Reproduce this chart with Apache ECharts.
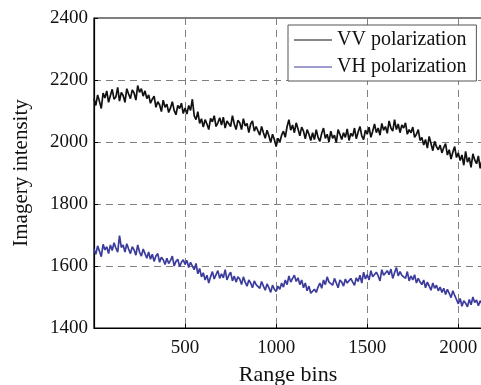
<!DOCTYPE html>
<html>
<head>
<meta charset="utf-8">
<script src="https://cdn.jsdelivr.net/npm/echarts@6/dist/echarts.min.js"></script>
<style>
    html, body { margin: 0; padding: 0; background: #ffffff; }
    #chart { width: 481px; height: 385px; }
</style>
</head>
<body>
<div id="chart"></div>
<script>
const BIN_STEP = 10;

const vvValues = [
    2140, 2118, 2152, 2131, 2108, 2158, 2142, 2165, 2128, 2150,
    2170, 2138, 2145, 2176, 2132, 2160, 2150, 2128, 2172, 2155,
    2140, 2168, 2158, 2135, 2182, 2160, 2172, 2148, 2165, 2140,
    2152, 2125, 2138, 2148, 2112, 2130, 2120, 2098, 2135, 2112,
    2122, 2095, 2110, 2130, 2102, 2088, 2118, 2108, 2125, 2092,
    2110, 2090, 2118, 2102, 2138, 2085, 2072, 2098, 2060, 2075,
    2048, 2072, 2058, 2040, 2076, 2065, 2085, 2050, 2062, 2078,
    2055, 2080, 2045, 2068, 2072, 2050, 2085, 2058, 2040, 2070,
    2062, 2040, 2075, 2052, 2060, 2030, 2058, 2068, 2035, 2050,
    2045, 2022, 2050, 2030, 2012, 2038, 2020, 1998, 2025, 2008,
    1985, 2012, 2000, 2022, 2035, 2015, 2050, 2072, 2038, 2055,
    2030, 2062, 2042, 2020, 2048, 2035, 2010, 2040, 2025, 2005,
    2030, 2008, 2040, 2015, 2002, 2028, 2045, 2012, 2025, 2000,
    2035, 2012, 2022, 1998, 2040, 2025, 2008, 2030, 2015, 2042,
    2005, 2028, 2018, 2045, 2010, 2032, 2050, 2020, 2008, 2038,
    2025, 2048, 2015, 2035, 2058, 2030, 2045, 2022, 2060, 2038,
    2050, 2028, 2068, 2045, 2035, 2072, 2040, 2058, 2030, 2055,
    2045, 2062, 2025, 2040, 2030, 2048, 2015, 2025, 2040, 2005,
    2015, 1990, 2008, 1980, 2018, 1995, 1972, 2002, 1985, 1975,
    1990, 1965, 1982, 1995, 1958, 1975, 1945, 1968, 1985, 1950,
    1965, 1940, 1958, 1925, 1970, 1935, 1950, 1918, 1962, 1942,
    1930, 1955, 1915, 1942
];

const vhValues = [
    1655, 1638, 1665, 1648, 1630, 1670, 1652, 1662, 1640, 1668,
    1650, 1675, 1658, 1645, 1698, 1660, 1668, 1645, 1672, 1655,
    1640, 1662, 1652, 1635, 1668, 1645, 1632, 1655, 1640, 1625,
    1645, 1622, 1638, 1615, 1632, 1640, 1612, 1628, 1620, 1605,
    1625, 1608, 1618, 1632, 1600, 1615, 1622, 1598, 1612, 1620,
    1605, 1618, 1595, 1612, 1600, 1588, 1608, 1575, 1592, 1565,
    1578, 1555, 1570, 1545, 1565, 1582, 1558, 1572, 1585, 1560,
    1575, 1562, 1588, 1555, 1570, 1580, 1552, 1568, 1548, 1565,
    1558, 1540, 1565, 1548, 1535, 1555, 1545, 1530, 1552, 1540,
    1545, 1528, 1550, 1535, 1522, 1542, 1530, 1515, 1538, 1525,
    1518, 1535, 1525, 1545, 1532, 1555, 1540, 1568, 1548, 1560,
    1570, 1550, 1562, 1540, 1555, 1530, 1545, 1520, 1535, 1512,
    1508, 1525, 1515, 1532, 1545, 1528, 1555, 1540, 1565, 1548,
    1552, 1538, 1560, 1545, 1530, 1555, 1548, 1535, 1558, 1545,
    1540, 1560, 1548, 1538, 1562, 1550, 1570, 1545, 1580, 1558,
    1572, 1555, 1585, 1565, 1560, 1580, 1568, 1552, 1588, 1570,
    1565, 1585, 1572, 1590, 1560, 1578, 1595, 1568, 1582, 1570,
    1575, 1560, 1582, 1552, 1568, 1555, 1572, 1545, 1560, 1548,
    1540, 1555, 1530, 1548, 1535, 1522, 1545, 1528, 1538, 1520,
    1532, 1515, 1528, 1508, 1525, 1512, 1498, 1520, 1505, 1492,
    1478, 1495, 1470, 1488, 1480, 1468, 1492, 1475, 1500, 1482,
    1490, 1472, 1488, 1478
];

const seriesNames = ["VV polarization", "VH polarization"];
const xTicks = [500, 1000, 1500, 2000];
const yTicks = [1400, 1600, 1800, 2000, 2200, 2400];

const FONT = "Liberation Serif";

function toPoints(values) {
    return values.map((v, i) => [i * BIN_STEP, v]);
}

const chart = echarts.init(document.getElementById("chart"), null, { renderer: "canvas" });

const dashed = {
    show: true,
    lineStyle: { color: "#808080", width: 1, type: [7, 5] }
};

chart.setOption({
    animation: false,
    backgroundColor: "#ffffff",
    grid: {
        left: 94,
        top: 18,
        width: 388,
        height: 310,
        outerBoundsMode: "none",
        show: true,
        borderColor: "#000000",
        borderWidth: 1.2
    },
    legend: {
        data: seriesNames,
        orient: "vertical",
        left: 288,
        top: 25,
        backgroundColor: "#ffffff",
        borderColor: "#555555",
        borderWidth: 1,
        padding: [4, 10, 3, 6],
        itemGap: 5,
        itemWidth: 38,
        itemHeight: 1,
        icon: "rect",
        textStyle: {
            fontFamily: FONT,
            fontSize: 20,
            lineHeight: 22,
            color: "#111111"
        }
    },
    xAxis: {
        type: "value",
        min: 0,
        max: 2130,
        interval: 500,
        name: "Range bins",
        nameLocation: "middle",
        nameGap: 36,
        nameTextStyle: { fontFamily: FONT, fontSize: 22, color: "#111111" },
        axisLine: { show: true, lineStyle: { color: "#000000", width: 1.2 } },
        axisTick: { show: true, inside: true, length: 4, lineStyle: { color: "#000000" } },
        axisLabel: {
            margin: 11,
            fontFamily: FONT,
            fontSize: 19,
            color: "#111111",
            showMinLabel: false,
            showMaxLabel: false,
            formatter: v => (xTicks.includes(v) ? String(v) : "")
        },
        splitLine: dashed
    },
    yAxis: {
        type: "value",
        min: 1400,
        max: 2400,
        interval: 200,
        name: "Imagery intensity",
        nameLocation: "middle",
        nameGap: 62,
        nameRotate: 90,
        nameTextStyle: { fontFamily: FONT, fontSize: 21, color: "#111111" },
        axisLine: { show: true, lineStyle: { color: "#000000", width: 1.2 } },
        axisTick: { show: true, inside: true, length: 4, lineStyle: { color: "#000000" } },
        axisLabel: {
            margin: 6,
            fontFamily: FONT,
            fontSize: 19,
            color: "#111111",
            formatter: v => (yTicks.includes(v) ? String(v) : "")
        },
        splitLine: dashed
    },
    series: [
        {
            name: seriesNames[0],
            type: "line",
            data: toPoints(vvValues),
            showSymbol: false,
            symbol: "none",
            color: "#111111",
            lineStyle: { color: "#111111", width: 1.7 }
        },
        {
            name: seriesNames[1],
            type: "line",
            data: toPoints(vhValues),
            showSymbol: false,
            symbol: "none",
            color: "#3c3c9c",
            lineStyle: { color: "#3c3c9c", width: 1.7 }
        }
    ]
});
</script>
</body>
</html>
